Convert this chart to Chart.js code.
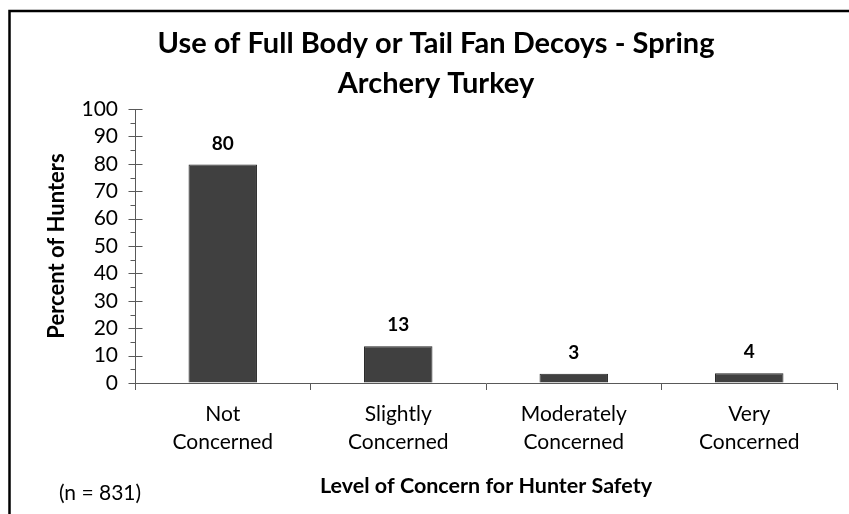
<!DOCTYPE html>
<html>
<head>
<meta charset="utf-8">
<script src="https://cdn.jsdelivr.net/npm/chart.js@4.4.1/dist/chart.umd.min.js"></script>
<style>
  html, body { margin: 0; padding: 0; background: #fff; }
  #wrap { position: relative; width: 849px; height: 514px; }
</style>
</head>
<body>
<div id="wrap"><canvas id="decoyChart" width="849" height="514"></canvas></div>
<script>
// chart data
const categories = [['Not', 'Concerned'], ['Slightly', 'Concerned'], ['Moderately', 'Concerned'], ['Very', 'Concerned']];
const percentValues = [79.8, 13.4, 3.4, 3.6];
const yTicks = [0, 10, 20, 30, 40, 50, 60, 70, 80, 90, 100];
const sampleNote = '(n = 831)';

const fontFamily = 'Lato, "Open Sans", sans-serif';
const axisColor = '#595959';

// frame lines (top + left, like the cropped source)
const framePlugin = {
  id: 'frame',
  beforeDraw(chart) {
    const ctx = chart.ctx;
    ctx.save();
    ctx.fillStyle = '#fff';
    ctx.fillRect(0, 0, chart.width, chart.height);
    ctx.strokeStyle = '#000';
    ctx.lineWidth = 2.5;
    ctx.beginPath();
    ctx.moveTo(9.5, chart.height);
    ctx.lineTo(9.5, 11);
    ctx.lineTo(chart.width, 11);
    ctx.stroke();
    ctx.restore();
  }
};

// major ticks cross the axis, minor ticks outside only
const yTickMarks = {
  id: 'yTickMarks',
  afterDraw(chart) {
    const y = chart.scales.y;
    const ctx = chart.ctx;
    const x0 = Math.round(y.right) + 0.5;
    ctx.save();
    ctx.strokeStyle = axisColor;
    ctx.lineWidth = 1;
    const vals = y.ticks.map(t => t.value);
    vals.forEach((v, i) => {
      const py = Math.round(y.getPixelForValue(v)) + 0.5;
      ctx.beginPath();
      ctx.moveTo(x0 - 7, py);
      ctx.lineTo(x0 + 7, py);
      ctx.stroke();
      if (i < vals.length - 1) {
        const my = Math.round(y.getPixelForValue((v + vals[i + 1]) / 2)) + 0.5;
        ctx.beginPath();
        ctx.moveTo(x0 - 5, my);
        ctx.lineTo(x0, my);
        ctx.stroke();
      }
    });
    ctx.restore();
  }
};

// value labels over bars + sample size note
const valueLabels = {
  id: 'valueLabels',
  afterDatasetsDraw(chart) {
    const ctx = chart.ctx;
    const meta = chart.getDatasetMeta(0);
    ctx.save();
    ctx.fillStyle = '#000';
    ctx.font = 'bold 19px ' + fontFamily;
    ctx.textAlign = 'center';
    ctx.textBaseline = 'middle';
    meta.data.forEach((bar, i) => {
      ctx.fillText(String(Math.round(percentValues[i])), bar.x, bar.y - 21);
    });
    ctx.font = '21px ' + fontFamily;
    ctx.fillText(sampleNote, 100, 493);
    ctx.restore();
  }
};

const ctx = document.getElementById('decoyChart').getContext('2d');
new Chart(ctx, {
  type: 'bar',
  data: {
    labels: categories,
    datasets: [{
      data: percentValues,
      backgroundColor: '#404040',
      borderColor: '#262626',
      borderWidth: 1,
      categoryPercentage: 1,
      barPercentage: 0.39
    }]
  },
  options: {
    responsive: false,
    animation: false,
    devicePixelRatio: 1,
    layout: { padding: { top: 0, right: 12, bottom: 0, left: 35 } },
    plugins: {
      legend: { display: false },
      tooltip: { enabled: false },
      title: {
        display: true,
        text: ['Use of Full Body or Tail Fan Decoys - Spring', 'Archery Turkey'],
        color: '#000',
        font: { family: fontFamily, size: 29, weight: 'bold', lineHeight: 1.38 },
        padding: { top: 24, bottom: 5 }
      }
    },
    scales: {
      y: {
        min: 0,
        max: 100,
        afterFit(scale) { scale.width = 100; },
        afterBuildTicks(scale) { scale.ticks = yTicks.map(v => ({ value: v })); },
        ticks: {
          color: '#000',
          padding: 17,
          autoSkip: false,
          font: { family: fontFamily, size: 21 }
        },
        grid: { display: true, drawOnChartArea: false, drawTicks: false, color: 'rgba(0,0,0,0)' },
        border: { display: true, color: axisColor, width: 1 },
        title: {
          display: true,
          text: 'Percent of Hunters',
          color: '#000',
          font: { family: fontFamily, size: 22, weight: 'bold' },
          padding: { top: 9, bottom: 0 }
        }
      },
      x: {
        afterFit(scale) { scale.height = 131; },
        ticks: {
          color: '#000',
          padding: 10,
          maxRotation: 0,
          autoSkip: false,
          font: { family: fontFamily, size: 21, lineHeight: 1.33 }
        },
        grid: { display: true, offset: true, drawOnChartArea: false, drawTicks: true, tickLength: 7, color: axisColor },
        border: { display: true, color: axisColor, width: 1 },
        title: {
          display: true,
          text: 'Level of Concern for Hunter Safety',
          color: '#000',
          font: { family: fontFamily, size: 21.5, weight: 'bold' },
          padding: { top: 0, bottom: 15 }
        }
      }
    }
  },
  plugins: [framePlugin, yTickMarks, valueLabels]
});
</script>
</body>
</html>
